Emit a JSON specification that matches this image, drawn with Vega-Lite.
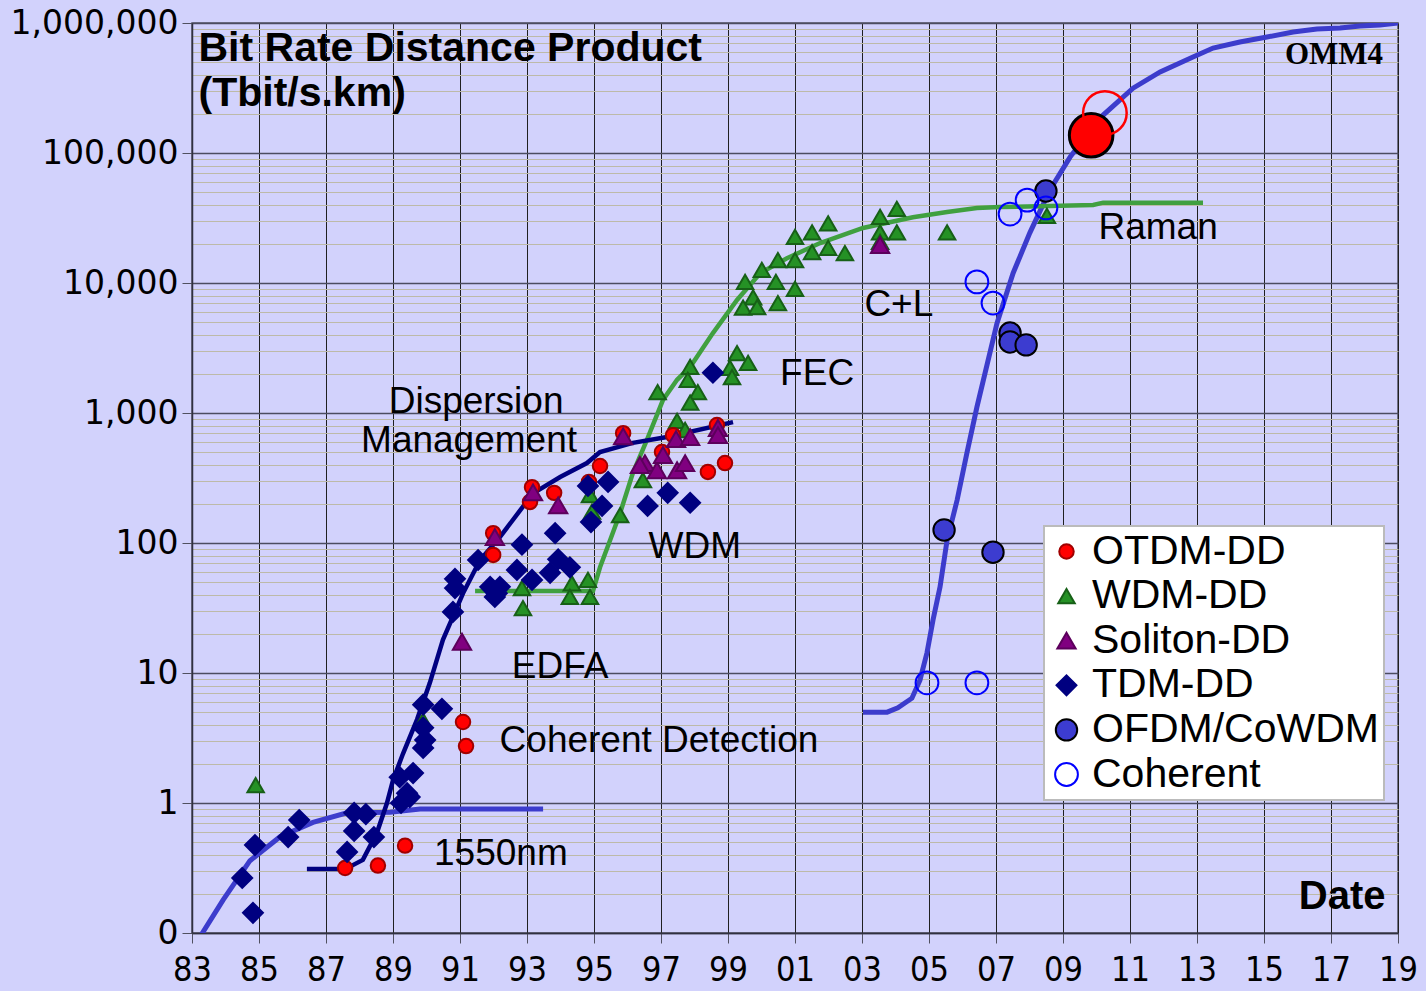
{
  "$schema": "https://vega.github.io/schema/vega-lite/v6.json",
  "width": 1206,
  "height": 910,
  "autosize": {"type": "none"},
  "padding": {"left": 192, "top": 23, "right": 28, "bottom": 58},
  "background": "#d2d2fc",
  "config": {
    "view": {"fill": "#d2d2fc", "stroke": "#505060", "strokeWidth": 1.5},
    "font": "Liberation Sans",
    "legend": {
      "orient": "none",
      "legendX": 852,
      "legendY": 503,
      "fillColor": "#ffffff",
      "strokeColor": "#bbbbbb",
      "strokeWidth": 2,
      "padding": 5,
      "labelFont": "Liberation Sans",
      "labelFontSize": 41,
      "labelColor": "#000000",
      "labelLimit": 500,
      "labelOffset": 5,
      "symbolOffset": -3,
      "rowPadding": 2.6,
      "symbolStrokeWidth": 2,
      "direction": "vertical"
    }
  },
  "datasets": {
    "lines": [
      {"s": "early", "year": 1983.2, "value": 0.09},
      {"s": "early", "year": 1983.93, "value": 0.18},
      {"s": "early", "year": 1984.73, "value": 0.36},
      {"s": "early", "year": 1985.63, "value": 0.55},
      {"s": "early", "year": 1986.61, "value": 0.71},
      {"s": "early", "year": 1987.63, "value": 0.84},
      {"s": "early", "year": 1988.91, "value": 0.85},
      {"s": "early", "year": 1989.81, "value": 0.9},
      {"s": "early", "year": 1993.48, "value": 0.9},
      {"s": "tdm", "year": 1986.43, "value": 0.31},
      {"s": "tdm", "year": 1987.57, "value": 0.31},
      {"s": "tdm", "year": 1988.1, "value": 0.365},
      {"s": "tdm", "year": 1988.52, "value": 0.59},
      {"s": "tdm", "year": 1988.82, "value": 1.0},
      {"s": "tdm", "year": 1989.0, "value": 1.5},
      {"s": "tdm", "year": 1989.3, "value": 2.4},
      {"s": "tdm", "year": 1989.72, "value": 4.4},
      {"s": "tdm", "year": 1990.1, "value": 8.4},
      {"s": "tdm", "year": 1990.49, "value": 18},
      {"s": "tdm", "year": 1991.09, "value": 41},
      {"s": "tdm", "year": 1991.6, "value": 74},
      {"s": "tdm", "year": 1992.19, "value": 111},
      {"s": "tdm", "year": 1993.18, "value": 241},
      {"s": "tdm", "year": 1993.99, "value": 322},
      {"s": "tdm", "year": 1994.79, "value": 412},
      {"s": "tdm", "year": 1995.18, "value": 501},
      {"s": "tdm", "year": 1996.16, "value": 589},
      {"s": "tdm", "year": 1997.18, "value": 653},
      {"s": "tdm", "year": 1999.15, "value": 851},
      {"s": "wdm", "year": 1991.45, "value": 42.8},
      {"s": "wdm", "year": 1994.97, "value": 42.8},
      {"s": "wdm", "year": 1995.18, "value": 65},
      {"s": "wdm", "year": 1995.48, "value": 105},
      {"s": "wdm", "year": 1995.78, "value": 170},
      {"s": "wdm", "year": 1996.16, "value": 345},
      {"s": "wdm", "year": 1996.58, "value": 620},
      {"s": "wdm", "year": 1997.06, "value": 1260},
      {"s": "wdm", "year": 1997.48, "value": 1800},
      {"s": "wdm", "year": 1997.87, "value": 2260},
      {"s": "wdm", "year": 1998.55, "value": 4120},
      {"s": "wdm", "year": 1999.27, "value": 7400},
      {"s": "wdm", "year": 1999.96, "value": 11900},
      {"s": "wdm", "year": 2000.76, "value": 15500},
      {"s": "wdm", "year": 2001.75, "value": 20300},
      {"s": "wdm", "year": 2003.03, "value": 26500},
      {"s": "wdm", "year": 2004.52, "value": 32000},
      {"s": "wdm", "year": 2005.54, "value": 35200},
      {"s": "wdm", "year": 2006.43, "value": 37800},
      {"s": "wdm", "year": 2007.12, "value": 38400},
      {"s": "wdm", "year": 2009.9, "value": 39800},
      {"s": "wdm", "year": 2010.2, "value": 41500},
      {"s": "wdm", "year": 2013.18, "value": 41500},
      {"s": "coh", "year": 2003.03, "value": 5.0},
      {"s": "coh", "year": 2003.75, "value": 5.0},
      {"s": "coh", "year": 2004.07, "value": 5.4},
      {"s": "coh", "year": 2004.49, "value": 6.4},
      {"s": "coh", "year": 2004.73, "value": 8.8},
      {"s": "coh", "year": 2004.94, "value": 14.3},
      {"s": "coh", "year": 2005.12, "value": 25.6},
      {"s": "coh", "year": 2005.33, "value": 46},
      {"s": "coh", "year": 2005.54, "value": 105},
      {"s": "coh", "year": 2005.84, "value": 214},
      {"s": "coh", "year": 2006.13, "value": 490},
      {"s": "coh", "year": 2006.43, "value": 1110},
      {"s": "coh", "year": 2007.03, "value": 4900},
      {"s": "coh", "year": 2007.51, "value": 11900},
      {"s": "coh", "year": 2008.01, "value": 24300},
      {"s": "coh", "year": 2008.61, "value": 51900},
      {"s": "coh", "year": 2009.21, "value": 93000},
      {"s": "coh", "year": 2009.6, "value": 126000},
      {"s": "coh", "year": 2010.19, "value": 195000},
      {"s": "coh", "year": 2011.09, "value": 315000},
      {"s": "coh", "year": 2011.9, "value": 420000},
      {"s": "coh", "year": 2012.88, "value": 547000},
      {"s": "coh", "year": 2013.48, "value": 642000},
      {"s": "coh", "year": 2014.28, "value": 714000},
      {"s": "coh", "year": 2015.09, "value": 780000},
      {"s": "coh", "year": 2015.87, "value": 852000},
      {"s": "coh", "year": 2016.58, "value": 900000},
      {"s": "coh", "year": 2017.27, "value": 916000},
      {"s": "coh", "year": 2017.87, "value": 948000},
      {"s": "coh", "year": 2018.46, "value": 966000},
      {"s": "coh", "year": 2019.0, "value": 1000000}
    ],
    "points": [
      {"type": "WDM-DD", "year": 1984.9, "value": 1.37},
      {"type": "WDM-DD", "year": 1989.9, "value": 4.3},
      {"type": "WDM-DD", "year": 1992.85, "value": 45},
      {"type": "WDM-DD", "year": 1992.88, "value": 31.6},
      {"type": "WDM-DD", "year": 1994.34, "value": 49},
      {"type": "WDM-DD", "year": 1994.28, "value": 38.5},
      {"type": "WDM-DD", "year": 1994.82, "value": 52},
      {"type": "WDM-DD", "year": 1994.88, "value": 38.5},
      {"type": "WDM-DD", "year": 1994.88, "value": 234},
      {"type": "WDM-DD", "year": 1994.94, "value": 174},
      {"type": "WDM-DD", "year": 1995.78, "value": 164},
      {"type": "WDM-DD", "year": 1996.46, "value": 305},
      {"type": "WDM-DD", "year": 1997.48, "value": 870},
      {"type": "WDM-DD", "year": 1997.72, "value": 740},
      {"type": "WDM-DD", "year": 1996.9, "value": 1450},
      {"type": "WDM-DD", "year": 1997.87, "value": 2260},
      {"type": "WDM-DD", "year": 1997.8, "value": 1800},
      {"type": "WDM-DD", "year": 1998.1, "value": 1450},
      {"type": "WDM-DD", "year": 1997.87, "value": 1200},
      {"type": "WDM-DD", "year": 1999.06, "value": 2220},
      {"type": "WDM-DD", "year": 1999.27, "value": 2890},
      {"type": "WDM-DD", "year": 1999.6, "value": 2430},
      {"type": "WDM-DD", "year": 1999.12, "value": 1890},
      {"type": "WDM-DD", "year": 1999.51, "value": 10190},
      {"type": "WDM-DD", "year": 2000.01, "value": 12600},
      {"type": "WDM-DD", "year": 1999.75, "value": 7760},
      {"type": "WDM-DD", "year": 1999.45, "value": 6460},
      {"type": "WDM-DD", "year": 1999.87, "value": 6530},
      {"type": "WDM-DD", "year": 2000.49, "value": 7010},
      {"type": "WDM-DD", "year": 2000.43, "value": 10200},
      {"type": "WDM-DD", "year": 2000.49, "value": 15000},
      {"type": "WDM-DD", "year": 2001.0, "value": 15000},
      {"type": "WDM-DD", "year": 2001.0, "value": 9000},
      {"type": "WDM-DD", "year": 2001.0, "value": 22600},
      {"type": "WDM-DD", "year": 2001.51, "value": 24500},
      {"type": "WDM-DD", "year": 2001.51, "value": 17300},
      {"type": "WDM-DD", "year": 2001.99, "value": 28800},
      {"type": "WDM-DD", "year": 2001.99, "value": 18600},
      {"type": "WDM-DD", "year": 2002.49, "value": 17000},
      {"type": "WDM-DD", "year": 2003.54, "value": 32200},
      {"type": "WDM-DD", "year": 2004.04, "value": 37100},
      {"type": "WDM-DD", "year": 2003.54, "value": 24500},
      {"type": "WDM-DD", "year": 2004.04, "value": 24500},
      {"type": "WDM-DD", "year": 2003.54, "value": 20700},
      {"type": "WDM-DD", "year": 2005.54, "value": 24500},
      {"type": "WDM-DD", "year": 2008.52, "value": 32800},
      {"type": "OTDM-DD", "year": 1987.57, "value": 0.316},
      {"type": "OTDM-DD", "year": 1988.55, "value": 0.33},
      {"type": "OTDM-DD", "year": 1989.36, "value": 0.47},
      {"type": "OTDM-DD", "year": 1991.09, "value": 4.2},
      {"type": "OTDM-DD", "year": 1991.18, "value": 2.74},
      {"type": "OTDM-DD", "year": 1991.99, "value": 119},
      {"type": "OTDM-DD", "year": 1991.99, "value": 81},
      {"type": "OTDM-DD", "year": 1993.15, "value": 269},
      {"type": "OTDM-DD", "year": 1993.09, "value": 207},
      {"type": "OTDM-DD", "year": 1993.81, "value": 243},
      {"type": "OTDM-DD", "year": 1994.85, "value": 295},
      {"type": "OTDM-DD", "year": 1995.18, "value": 391},
      {"type": "OTDM-DD", "year": 1995.87, "value": 700},
      {"type": "OTDM-DD", "year": 1997.03, "value": 501},
      {"type": "OTDM-DD", "year": 1997.36, "value": 675},
      {"type": "OTDM-DD", "year": 1998.4, "value": 352},
      {"type": "OTDM-DD", "year": 1998.91, "value": 412},
      {"type": "OTDM-DD", "year": 1998.67, "value": 809},
      {"type": "Soliton-DD", "year": 1991.06, "value": 17.4},
      {"type": "Soliton-DD", "year": 1992.04, "value": 111},
      {"type": "Soliton-DD", "year": 1993.18, "value": 245},
      {"type": "Soliton-DD", "year": 1993.93, "value": 195},
      {"type": "Soliton-DD", "year": 1995.87, "value": 660},
      {"type": "Soliton-DD", "year": 1996.52, "value": 412},
      {"type": "Soliton-DD", "year": 1996.88, "value": 363},
      {"type": "Soliton-DD", "year": 1997.06, "value": 475},
      {"type": "Soliton-DD", "year": 1997.48, "value": 363},
      {"type": "Soliton-DD", "year": 1997.72, "value": 412},
      {"type": "Soliton-DD", "year": 1997.45, "value": 630},
      {"type": "Soliton-DD", "year": 1997.87, "value": 653},
      {"type": "Soliton-DD", "year": 1998.7, "value": 767},
      {"type": "Soliton-DD", "year": 1998.7, "value": 675},
      {"type": "Soliton-DD", "year": 1996.37, "value": 398},
      {"type": "Soliton-DD", "year": 2003.54, "value": 19600},
      {"type": "TDM-DD", "year": 1984.88, "value": 0.475},
      {"type": "TDM-DD", "year": 1984.5, "value": 0.265},
      {"type": "TDM-DD", "year": 1984.82, "value": 0.143},
      {"type": "TDM-DD", "year": 1985.87, "value": 0.547},
      {"type": "TDM-DD", "year": 1986.2, "value": 0.74},
      {"type": "TDM-DD", "year": 1987.84, "value": 0.84},
      {"type": "TDM-DD", "year": 1988.19, "value": 0.82},
      {"type": "TDM-DD", "year": 1987.84, "value": 0.61},
      {"type": "TDM-DD", "year": 1987.63, "value": 0.42},
      {"type": "TDM-DD", "year": 1988.43, "value": 0.547},
      {"type": "TDM-DD", "year": 1989.24, "value": 1.0},
      {"type": "TDM-DD", "year": 1989.42, "value": 1.19},
      {"type": "TDM-DD", "year": 1989.5, "value": 1.11},
      {"type": "TDM-DD", "year": 1989.2, "value": 1.58},
      {"type": "TDM-DD", "year": 1989.6, "value": 1.7},
      {"type": "TDM-DD", "year": 1989.9, "value": 5.7},
      {"type": "TDM-DD", "year": 1990.46, "value": 5.3},
      {"type": "TDM-DD", "year": 1989.9, "value": 3.8},
      {"type": "TDM-DD", "year": 1989.96, "value": 3.05},
      {"type": "TDM-DD", "year": 1989.9, "value": 2.65},
      {"type": "TDM-DD", "year": 1990.79, "value": 29.5},
      {"type": "TDM-DD", "year": 1990.85, "value": 53},
      {"type": "TDM-DD", "year": 1990.85, "value": 45},
      {"type": "TDM-DD", "year": 1991.54, "value": 74},
      {"type": "TDM-DD", "year": 1991.9, "value": 46},
      {"type": "TDM-DD", "year": 1992.1, "value": 41},
      {"type": "TDM-DD", "year": 1992.19, "value": 46},
      {"type": "TDM-DD", "year": 1992.04, "value": 38.5},
      {"type": "TDM-DD", "year": 1992.7, "value": 62},
      {"type": "TDM-DD", "year": 1992.85, "value": 97},
      {"type": "TDM-DD", "year": 1993.15, "value": 52},
      {"type": "TDM-DD", "year": 1993.84, "value": 119},
      {"type": "TDM-DD", "year": 1993.69, "value": 59},
      {"type": "TDM-DD", "year": 1993.93, "value": 75},
      {"type": "TDM-DD", "year": 1994.28, "value": 65},
      {"type": "TDM-DD", "year": 1994.82, "value": 275},
      {"type": "TDM-DD", "year": 1995.42, "value": 295},
      {"type": "TDM-DD", "year": 1995.24, "value": 193},
      {"type": "TDM-DD", "year": 1994.91, "value": 145},
      {"type": "TDM-DD", "year": 1996.6, "value": 193},
      {"type": "TDM-DD", "year": 1997.2, "value": 243},
      {"type": "TDM-DD", "year": 1997.87, "value": 204},
      {"type": "TDM-DD", "year": 1998.55, "value": 2040},
      {"type": "OFDM/CoWDM", "year": 2005.45, "value": 126},
      {"type": "OFDM/CoWDM", "year": 2006.91, "value": 85},
      {"type": "OFDM/CoWDM", "year": 2007.42, "value": 4120},
      {"type": "OFDM/CoWDM", "year": 2007.42, "value": 3520},
      {"type": "OFDM/CoWDM", "year": 2007.9, "value": 3340},
      {"type": "OFDM/CoWDM", "year": 2008.49, "value": 51000},
      {"type": "Coherent", "year": 2004.94, "value": 8.4},
      {"type": "Coherent", "year": 2006.43, "value": 8.4},
      {"type": "Coherent", "year": 2006.43, "value": 10200},
      {"type": "Coherent", "year": 2006.91, "value": 7010},
      {"type": "Coherent", "year": 2007.42, "value": 33900},
      {"type": "Coherent", "year": 2007.93, "value": 43400},
      {"type": "Coherent", "year": 2008.49, "value": 37800}
    ],
    "big": [
      {"kind": "filled", "year": 2009.84, "value": 137000},
      {"kind": "open", "year": 2010.25, "value": 203000}
    ],
    "notes": [
      {"label": "Dispersion", "year": 1991.48, "value": 1210},
      {"label": "Management", "year": 1991.27, "value": 610},
      {"label": "WDM", "year": 1998.01, "value": 93},
      {"label": "EDFA", "year": 1993.99, "value": 11.1},
      {"label": "Coherent Detection", "year": 1996.94, "value": 3.0},
      {"label": "FEC", "year": 2001.66, "value": 1995},
      {"label": "C+L", "year": 2004.1, "value": 6770},
      {"label": "Raman", "year": 2011.84, "value": 26500},
      {"label": "1550nm", "year": 1992.22, "value": 0.405}
    ],
    "omm": [
      {"label": "OMM4", "year": 2017.09, "value": 567000}
    ]
  },
  "encoding": {
    "x": {
      "field": "year",
      "type": "quantitative",
      "scale": {"domain": [1983, 2019], "nice": false, "zero": false},
      "axis": {
        "values": [1983, 1985, 1987, 1989, 1991, 1993, 1995, 1997, 1999, 2001, 2003, 2005, 2007, 2009, 2011, 2013, 2015, 2017, 2019],
        "labelExpr": "substring(toString(datum.value), 2)",
        "labelFont": "DejaVu Sans Condensed, Liberation Sans, sans-serif",
        "labelFontSize": 34,
        "labelColor": "#000000",
        "labelPadding": 10,
        "labelOverlap": false,
        "labelFlush": false,
        "labelBound": false,
        "tickSize": 10,
        "tickColor": "#505060",
        "domainColor": "#303040",
        "domainWidth": 1.5,
        "grid": true,
        "gridColor": "#202020",
        "gridWidth": 1,
        "gridOpacity": 1,
        "title": "Date",
        "titleFont": "Liberation Sans",
        "titleFontSize": 40,
        "titleFontWeight": "bold",
        "titleColor": "#000000",
        "titleX": 1193,
        "titleY": -25,
        "titleAlign": "right",
        "titleBaseline": "alphabetic"
      }
    },
    "y": {
      "field": "value",
      "type": "quantitative",
      "scale": {"type": "log", "domain": [0.1, 1000000], "nice": false},
      "axis": {
        "values": [0.1, 0.2, 0.3, 0.4, 0.5, 0.6, 0.7, 0.8, 0.9, 1, 2, 3, 4, 5, 6, 7, 8, 9, 10, 20, 30, 40, 50, 60, 70, 80, 90, 100, 200, 300, 400, 500, 600, 700, 800, 900, 1000, 2000, 3000, 4000, 5000, 6000, 7000, 8000, 9000, 10000, 20000, 30000, 40000, 50000, 60000, 70000, 80000, 90000, 100000, 200000, 300000, 400000, 500000, 600000, 700000, 800000, 900000, 1000000],
        "labelExpr": "datum.value == 0.1 ? '0' : (indexof([1,10,100,1000,10000,100000,1000000], datum.value) >= 0 ? format(datum.value, ',') : '')",
        "labelFont": "DejaVu Sans",
        "labelFontSize": 33,
        "labelColor": "#000000",
        "labelPadding": 4,
        "labelOverlap": false,
        "labelFlush": false,
        "labelBound": false,
        "tickSize": 10,
        "tickColor": "#505060",
        "tickOpacity": {"condition": {"test": "indexof([0.1,1,10,100,1000,10000,100000,1000000], datum.value) >= 0", "value": 1}, "value": 0},
        "domainColor": "#303040",
        "domainWidth": 1.5,
        "grid": true,
        "gridColor": {"condition": {"test": "indexof([0.1,1,10,100,1000,10000,100000,1000000], datum.value) >= 0", "value": "#4c4c60"}, "value": "#bdbaa8"},
        "gridWidth": {"condition": {"test": "indexof([0.1,1,10,100,1000,10000,100000,1000000], datum.value) >= 0", "value": 1.5}, "value": 1},
        "gridOpacity": 1,
        "title": ["Bit Rate Distance Product", "(Tbit/s.km)"],
        "titleFont": "Liberation Sans",
        "titleFontSize": 41,
        "titleFontWeight": "bold",
        "titleColor": "#000000",
        "titleAngle": 0,
        "titleAlign": "left",
        "titleBaseline": "alphabetic",
        "titleX": 6,
        "titleY": 37,
        "titleLineHeight": 45,
        "titleLimit": 1000
      }
    }
  },
  "layer": [
    {
      "data": {"name": "lines"},
      "transform": [{"filter": "datum.s == 'early' || datum.s == 'coh'"}],
      "mark": {"type": "line", "color": "#3c3ccc", "strokeWidth": 5, "clip": true},
      "encoding": {"detail": {"field": "s", "type": "nominal"}}
    },
    {
      "data": {"name": "lines"},
      "transform": [{"filter": "datum.s == 'wdm'"}],
      "mark": {"type": "line", "color": "#40a040", "strokeWidth": 4.5, "clip": true},
      "encoding": {}
    },
    {
      "data": {"name": "lines"},
      "transform": [{"filter": "datum.s == 'tdm'"}],
      "mark": {"type": "line", "color": "#000080", "strokeWidth": 4.5, "clip": true},
      "encoding": {}
    },
    {
      "data": {"name": "points"},
      "mark": {"type": "point", "filled": true, "opacity": 1, "strokeWidth": 2, "clip": true},
      "encoding": {
        "fill": {
          "field": "type", "type": "nominal",
          "scale": {"domain": ["OTDM-DD", "WDM-DD", "Soliton-DD", "TDM-DD", "OFDM/CoWDM", "Coherent"],
                    "range": ["#ff0000", "#259125", "#800080", "#000080", "#3c3cd0", "transparent"]},
          "legend": {"title": null}
        },
        "stroke": {
          "field": "type", "type": "nominal",
          "scale": {"domain": ["OTDM-DD", "WDM-DD", "Soliton-DD", "TDM-DD", "OFDM/CoWDM", "Coherent"],
                    "range": ["#a00000", "#176017", "#5c005c", "#000080", "#000000", "#0000ff"]},
          "legend": {"title": null}
        },
        "shape": {
          "field": "type", "type": "nominal",
          "scale": {"domain": ["OTDM-DD", "WDM-DD", "Soliton-DD", "TDM-DD", "OFDM/CoWDM", "Coherent"],
                    "range": ["circle", "triangle-up", "triangle-up", "diamond", "circle", "circle"]},
          "legend": {"title": null}
        },
        "size": {
          "field": "type", "type": "nominal",
          "scale": {"domain": ["OTDM-DD", "WDM-DD", "Soliton-DD", "TDM-DD", "OFDM/CoWDM", "Coherent"],
                    "range": [210, 520, 520, 290, 190, 130]},
          "legend": {"title": null}
        }
      }
    },
    {
      "data": {"name": "big"},
      "transform": [{"filter": "datum.kind == 'filled'"}],
      "mark": {"type": "point", "shape": "circle", "filled": true, "fill": "#ff0000", "stroke": "#000000", "strokeWidth": 3, "size": 1900, "opacity": 1},
      "encoding": {}
    },
    {
      "data": {"name": "big"},
      "transform": [{"filter": "datum.kind == 'open'"}],
      "mark": {"type": "point", "shape": "circle", "filled": false, "fill": "transparent", "stroke": "#ff0000", "strokeWidth": 2.5, "size": 1900, "opacity": 1},
      "encoding": {}
    },
    {
      "data": {"name": "notes"},
      "mark": {"type": "text", "font": "Liberation Sans", "fontSize": 37, "color": "#000000", "align": "center", "baseline": "middle"},
      "encoding": {"text": {"field": "label", "type": "nominal"}}
    },
    {
      "data": {"name": "omm"},
      "mark": {"type": "text", "font": "Liberation Serif", "fontSize": 31, "fontWeight": "bold", "color": "#000000", "align": "center", "baseline": "middle"},
      "encoding": {"text": {"field": "label", "type": "nominal"}}
    }
  ]
}
